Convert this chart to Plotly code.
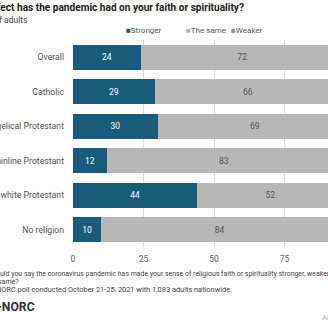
import plotly.graph_objects as go

categories = ["Overall", "Catholic", "White evangelical Protestant", "White mainline Protestant",
              "Non-white Protestant", "No religion"]
series_names = ["Stronger", "The same", "Weaker"]
stronger = [24, 29, 30, 12, 44, 10]
same = [72, 66, 69, 83, 52, 84]
weaker = [4, 5, 1, 5, 4, 6]
x_ticks = [0, 25, 50, 75, 100]

colors = ["#185b7b", "#b7b7b7", "#6da783"]
text_colors = ["#ffffff", "#555555", "#ffffff"]

W, H = 328, 328
ML, MR, MT, MB = 73, 0, 40, 81
PW, PH = W - ML - MR, H - MT - MB


def px(p):
    return (p - ML) / PW


def py(p):
    return (H - MB - p) / PH


fig = go.Figure()
for name, vals, c, tc in zip(series_names, [stronger, same, weaker], colors, text_colors):
    fig.add_trace(go.Bar(
        y=categories, x=vals, name=name, orientation="h",
        marker=dict(color=c, line=dict(width=0)),
        text=[str(v) for v in vals], textposition="inside", insidetextanchor="middle",
        textangle=0, textfont=dict(size=8.5, color=tc, family="Roboto"),
        showlegend=False, hoverinfo="skip",
    ))

fig.update_layout(
    width=W, height=H, barmode="stack", bargap=0.28,
    margin=dict(l=ML, r=MR, t=MT, b=MB, autoexpand=False),
    paper_bgcolor="white", plot_bgcolor="white",
    font=dict(family="Roboto", color="#555555"),
)
fig.update_xaxes(range=[0, 90.4], tickvals=x_ticks, showgrid=True, gridcolor="#dddddd",
                 gridwidth=1, zeroline=False, showline=False, ticks="", automargin=False,
                 tickfont=dict(size=8.5, color="#666666"), ticklabelstandoff=5, fixedrange=True)
fig.update_yaxes(autorange="reversed", showgrid=False, zeroline=False, showline=False,
                 ticks="", tickfont=dict(size=8.7, color="#555555"), ticklabelstandoff=8,
                 automargin=False, fixedrange=True)

ann = []
# title and subtitle (left part falls outside the view)
ann.append(dict(text="<b>What effect has the pandemic had on your faith or spirituality?</b>",
                x=px(246), y=py(8), xanchor="right", yanchor="middle",
                font=dict(size=10.1, color="#222222")))
ann.append(dict(text="Percent of adults", x=px(29), y=py(20), xanchor="right", yanchor="middle",
                font=dict(size=8.5, color="#444444")))
# legend
leg_x = [124, 184, 229]
for name, c, lx in zip(series_names, colors, leg_x):
    ann.append(dict(text=f'<span style="color:{c}">■</span>{name}', x=px(lx), y=py(30),
                    xanchor="left", yanchor="middle", font=dict(size=8, color="#555555")))
# footnotes
ann.append(dict(text="Question: Would you say the coronavirus pandemic has made your sense of religious faith or spirituality stronger, weaker, or has it stayed about the",
                x=px(-43), y=py(274), xanchor="left", yanchor="middle",
                font=dict(size=6.95, color="#444444")))
ann.append(dict(text="same?", x=px(21), y=py(282), xanchor="right", yanchor="middle",
                font=dict(size=7.0, color="#444444")))
ann.append(dict(text="Source: AP-NORC poll conducted October 21-25, 2021 with 1,083 adults nationwide.",
                x=px(234), y=py(289), xanchor="right", yanchor="middle",
                font=dict(size=7.4, color="#444444")))
ann.append(dict(text="<b>AP-NORC</b>", x=px(37), y=py(307), xanchor="right", yanchor="middle",
                font=dict(size=12.2, color="#333333")))
ann.append(dict(text="AP", x=px(320), y=py(317), xanchor="left", yanchor="middle",
                font=dict(size=7.5, color="#aaaaaa")))
for a in ann:
    a.update(xref="paper", yref="paper", showarrow=False)
fig.update_layout(annotations=ann)

fig.write_html("out.html")
